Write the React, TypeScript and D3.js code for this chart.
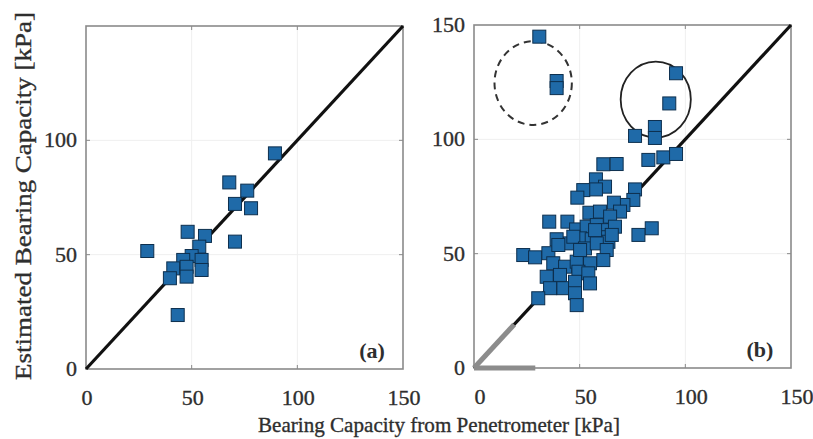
import React from "react";
import * as d3 from "d3";

const ticks = [0, 50, 100, 150];
const panelALabel = "(a)";
const panelBLabel = "(b)";
const xTitle = "Bearing Capacity from Penetrometer [kPa]";
const yTitle = "Estimated Bearing Capacity [kPa]";

// Panel (a): [penetrometer, estimated]
const pointsA: [number, number][] = [
  [89.4, 94.3], [67.8, 81.6], [76.3, 78.0], [70.5, 72.2], [78.1, 70.3],
  [48.1, 60.0], [56.3, 58.2], [70.5, 55.7], [29.0, 51.6], [53.6, 53.5],
  [50.0, 49.4], [54.7, 47.7], [46.0, 47.7], [41.3, 44.0], [47.6, 44.7],
  [54.7, 43.3], [39.7, 39.7], [47.6, 40.4], [43.4, 23.6],
];

// Panel (b)
const pointsB: [number, number][] = [
  [30.9, 144.9], [39.1, 125.5], [39.1, 122.4], [95.6, 128.9], [92.4, 115.7],
  [76.2, 101.5], [85.6, 105.4], [85.6, 100.6], [82.5, 91.0], [89.6, 92.1],
  [95.6, 93.6], [61.2, 89.1], [67.5, 89.2], [57.7, 82.5], [62.0, 79.3],
  [57.7, 78.1], [51.7, 77.8], [48.9, 74.5], [76.2, 78.1], [75.4, 73.5],
  [70.7, 71.3], [66.2, 72.3], [69.1, 68.4], [54.6, 67.9], [59.6, 68.4],
  [64.4, 66.2], [35.6, 64.0], [44.2, 64.0], [48.3, 60.6], [53.3, 61.8],
  [58.1, 62.5], [62.0, 60.3], [66.7, 61.8], [84.1, 61.1], [77.8, 58.2],
  [39.1, 56.3], [50.2, 56.7], [55.7, 56.3], [60.4, 57.2], [63.6, 55.2],
  [45.4, 54.5], [23.3, 49.4], [28.9, 48.4], [35.2, 50.2], [39.9, 53.8],
  [47.0, 57.4], [52.5, 52.3], [58.1, 54.5], [62.8, 51.6], [65.2, 58.2],
  [37.5, 45.8], [43.1, 44.3], [48.6, 46.5], [54.9, 45.8], [61.2, 47.2],
  [34.4, 39.9], [40.7, 40.7], [49.4, 42.1], [54.1, 41.4], [36.0, 34.9],
  [42.3, 34.9], [47.8, 37.7], [54.9, 37.0], [47.8, 32.7], [30.4, 30.5],
  [48.6, 27.5], [50.2, 51.6], [57.3, 60.3],
];

// Annotation circles in panel (b): [cx, cy, r]
const dashedCircle = [28.0, 124.6, 18.3];
const solidCircle = [86.0, 117.4, 16.6];
// Gray overlay segments near origin in panel (b)
const graySegments: [number, number, number, number][] = [
  [0, 0, 19, 19],
  [0, 0, 29, 0],
];

const FONT = "'Liberation Serif', 'Times New Roman', serif";
const TEXT = "#2e2e2e";
const FILL = "#1f6aa8";
const STROKE = "#0d2f4e";
const textStyle = { stroke: TEXT, strokeWidth: 0.35 };

type PanelProps = {
  left: number; right: number; top: number; bottom: number;
  points: [number, number][]; label: string; showTop: boolean; xLabelDx: number;
  extra?: (x: d3.ScaleLinear<number, number>, y: d3.ScaleLinear<number, number>) => React.ReactNode;
};

function Panel({ left, right, top, bottom, points, label, showTop, xLabelDx, extra }: PanelProps) {
  const x = d3.scaleLinear().domain([0, 150]).range([left, right]);
  const y = d3.scaleLinear().domain([0, 150]).range([bottom, top]);
  const s = 13;
  const yTicks = showTop ? ticks : ticks.slice(0, 3);
  return (
    <g>
      {[50, 100].map((t) => (
        <g key={"g" + t}>
          <line x1={x(t)} x2={x(t)} y1={top} y2={bottom} stroke="#efefef" strokeWidth={1} />
          <line x1={left} x2={right} y1={y(t)} y2={y(t)} stroke="#efefef" strokeWidth={1} />
        </g>
      ))}
      <rect x={left} y={top} width={right - left} height={bottom - top} fill="none" stroke="#8a8a8a" strokeWidth={1.6} />
      {[50, 100].map((t) => (
        <g key={"t" + t} stroke="#8a8a8a" strokeWidth={1}>
          <line x1={x(t)} x2={x(t)} y1={bottom} y2={bottom - 4} />
          <line x1={x(t)} x2={x(t)} y1={top} y2={top + 4} />
          <line x1={left} x2={left + 4} y1={y(t)} y2={y(t)} />
          <line x1={right} x2={right - 4} y1={y(t)} y2={y(t)} />
        </g>
      ))}
      <line x1={x(0)} y1={y(0)} x2={x(150)} y2={y(150)} stroke="#111" strokeWidth={3.2} />
      {extra && extra(x, y)}
      {points.map((p, i) => (
        <rect key={i} x={x(p[0]) - s / 2} y={y(p[1]) - s / 2} width={s} height={s}
          fill={FILL} stroke={STROKE} strokeWidth={1} />
      ))}
      {ticks.map((t) => (
        <text key={"xl" + t} x={x(t) + xLabelDx} y={bottom + 36} textAnchor="middle"
          fontFamily={FONT} fontSize={22} fill={TEXT} style={textStyle}>{t}</text>
      ))}
      {yTicks.map((t) => (
        <text key={"yl" + t} x={left - 9} y={y(t) + 7} textAnchor="end"
          fontFamily={FONT} fontSize={22} fill={TEXT} style={textStyle}>{t}</text>
      ))}
      <text x={right - 31} y={bottom - 11} textAnchor="middle" fontFamily={FONT}
        fontSize={22} fontWeight="bold" fill={TEXT}>{label}</text>
    </g>
  );
}

export default function App() {
  return (
    <svg width={813} height={439} style={{ position: "absolute", left: 0, top: 0, background: "#fff" }}>
      <rect width={813} height={439} fill="#fff" />
      <Panel left={86} right={403} top={26} bottom={369} points={pointsA} label={panelALabel}
        showTop={false} xLabelDx={1} />
      <Panel left={474} right={791} top={25} bottom={368} points={pointsB} label={panelBLabel}
        showTop={true} xLabelDx={6}
        extra={(x, y) => (
          <g>
            {graySegments.map((g, i) => (
              <line key={i} x1={x(g[0])} y1={y(g[1])} x2={x(g[2])} y2={y(g[3])}
                stroke="#8c8c8c" strokeWidth={5} />
            ))}
            <ellipse cx={x(dashedCircle[0])} cy={y(dashedCircle[1])}
              rx={x(dashedCircle[2]) - x(0)} ry={y(0) - y(dashedCircle[2])}
              fill="none" stroke="#333" strokeWidth={2} strokeDasharray="7,5" />
            <ellipse cx={x(solidCircle[0])} cy={y(solidCircle[1])}
              rx={x(solidCircle[2]) - x(0)} ry={y(0) - y(solidCircle[2])}
              fill="none" stroke="#222" strokeWidth={1.8} />
          </g>
        )} />
      <text x={439} y={432} textAnchor="middle" fontFamily={FONT} fontSize={22} fill={TEXT}
        style={textStyle} textLength={362} lengthAdjust="spacingAndGlyphs">{xTitle}</text>
      <text transform="translate(31,196) rotate(-90)" textAnchor="middle" fontFamily={FONT}
        fontSize={24} fill={TEXT} style={textStyle} textLength={368} lengthAdjust="spacingAndGlyphs">{yTitle}</text>
    </svg>
  );
}
